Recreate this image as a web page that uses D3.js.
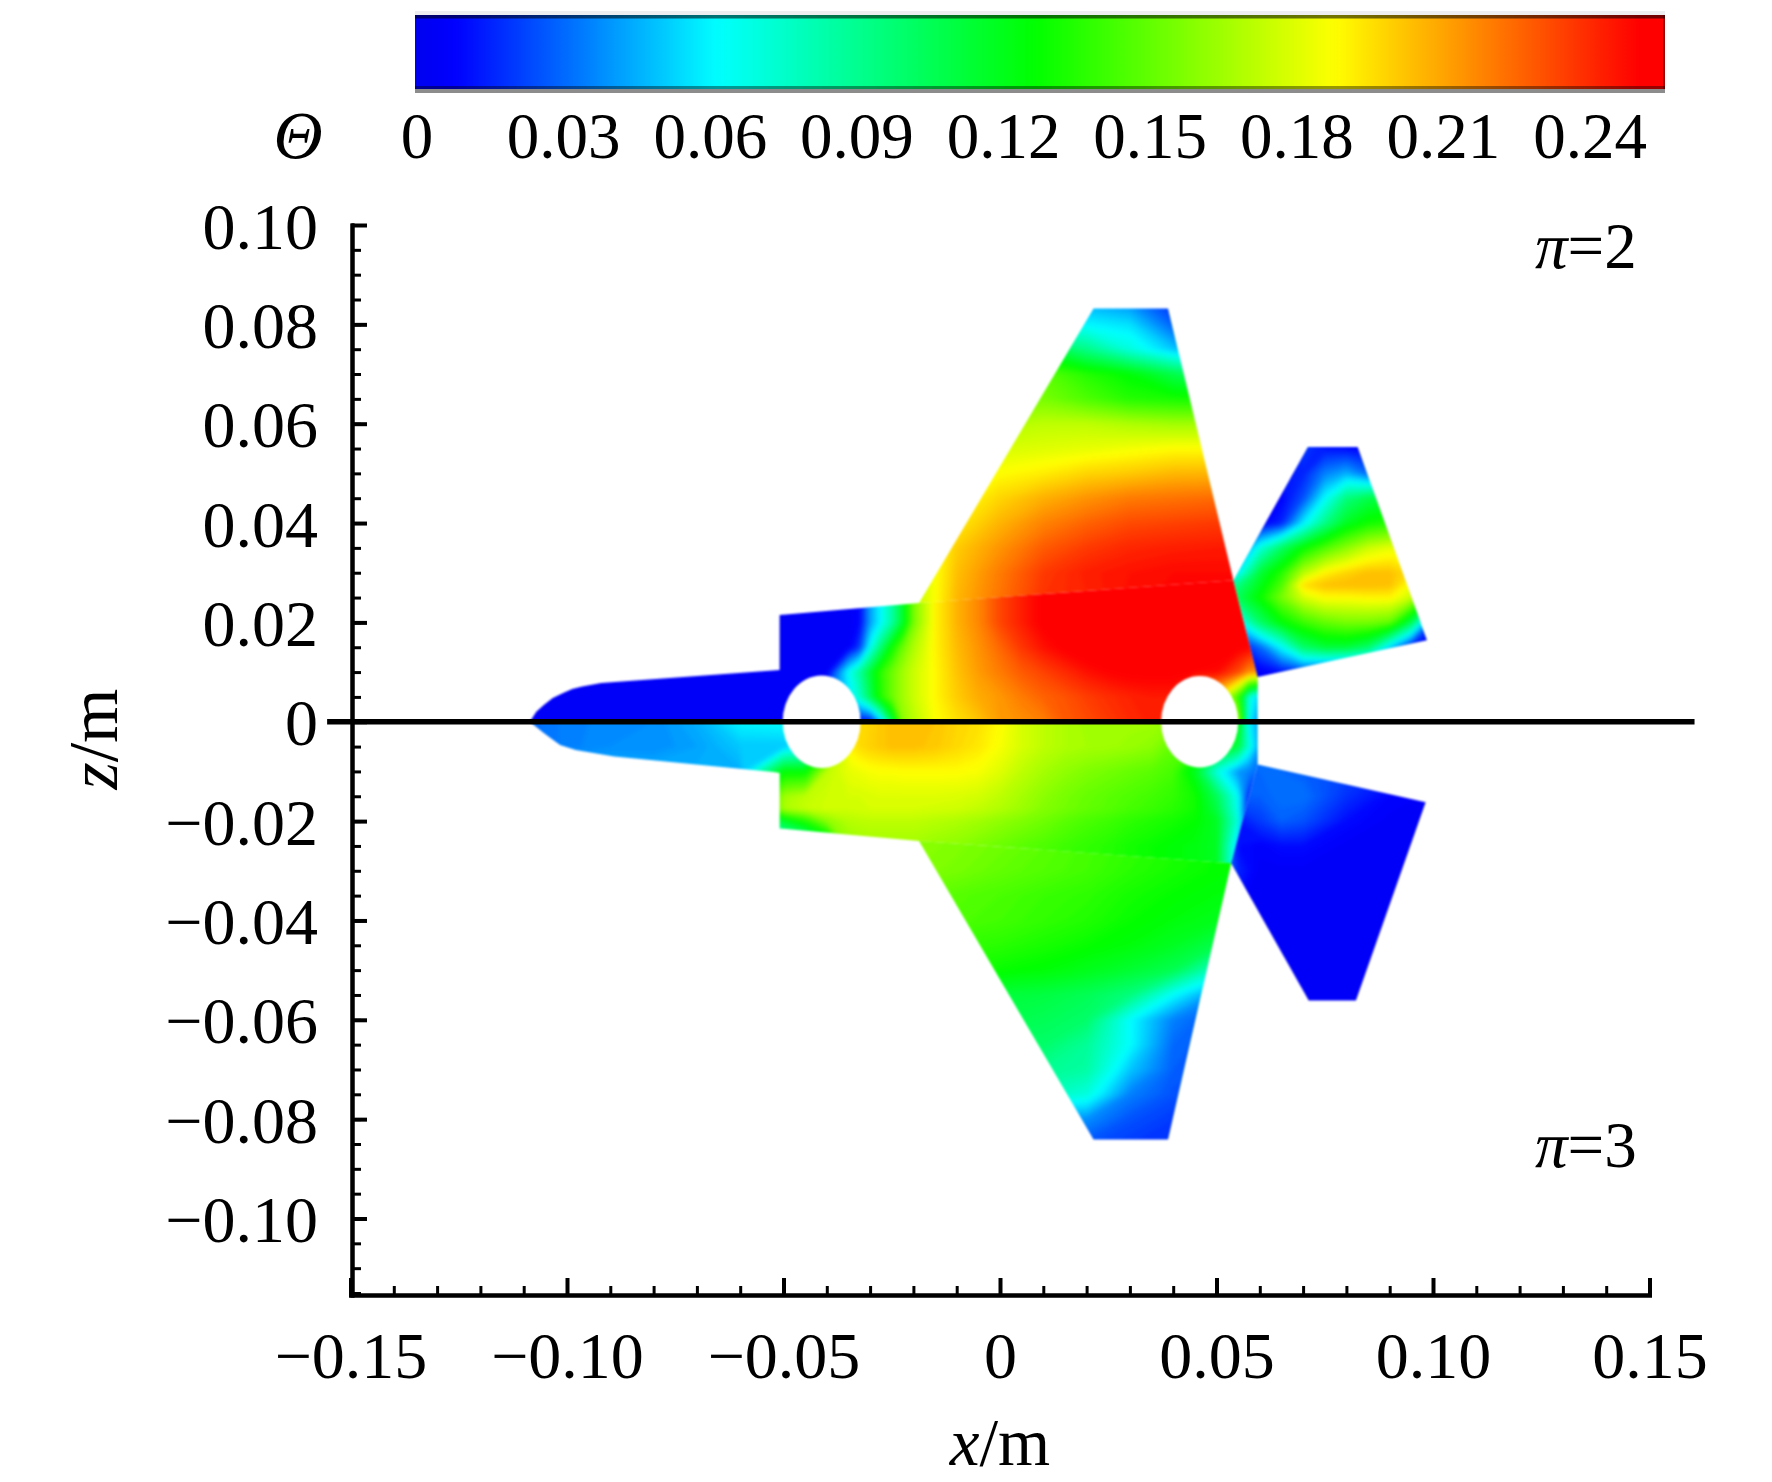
<!DOCTYPE html>
<html>
<head>
<meta charset="utf-8">
<script src="https://cdn.jsdelivr.net/npm/d3@7"></script>
<style>
  html, body { margin: 0; background: #fff; }
  text { font-family: "Liberation Serif", serif; fill: #000; }
</style>
</head>
<body>
<svg id="chart" width="1772" height="1482"></svg>
<script>
// axis ticks
const xMajor = [-0.15, -0.10, -0.05, 0, 0.05, 0.10, 0.15];
const xMinor = d3.range(-15, 16).map(d => d / 100);
const zMajor = [0.10, 0.08, 0.06, 0.04, 0.02, 0, -0.02, -0.04, -0.06, -0.08, -0.10];
const zMinor = d3.range(-23, 21).map(d => d / 200);
const barTicks = [0, 0.03, 0.06, 0.09, 0.12, 0.15, 0.18, 0.21, 0.24];
const barLabels = ['0', '0.03', '0.06', '0.09', '0.12', '0.15', '0.18', '0.21', '0.24'];

// colour scale of the bar, theta at each stop
const thetaStops = [0, 0.008, 0.0616, 0.1265, 0.1877, 0.25];
const thetaColors = ['#0000f0', '#0000ff', '#00ffff', '#00ff00', '#ffff00', '#ff0000'];

// outlines of the aircraft parts [x, z], metres
const upperBodyOutline = [[-0.1086, 0], [-0.1071, 0.002], [-0.1053, 0.0034], [-0.1033, 0.0048], [-0.1009, 0.0058], [-0.0988, 0.0066], [-0.0965, 0.0071], [-0.0921, 0.0078], [-0.0509, 0.0104], [-0.0509, 0.0215], [-0.0187, 0.0239], [0.0539, 0.0285], [0.0595, 0.009], [0.0595, 0]];
const upperWingOutline = [[-0.0187, 0.0239], [0.0216, 0.0832], [0.0388, 0.0832], [0.0539, 0.0285]];
const upperTailOutline = [[0.0539, 0.0285], [0.0711, 0.0553], [0.0826, 0.0553], [0.0986, 0.0164], [0.0595, 0.009]];
const lowerBodyOutline = [[-0.1086, 0], [-0.1053, -0.0023], [-0.1016, -0.0047], [-0.098, -0.0057], [-0.0891, -0.007], [-0.0524, -0.0101], [-0.0509, -0.0103], [-0.0509, -0.0215], [-0.0187, -0.024], [0.0534, -0.0285], [0.0595, -0.0086], [0.0595, 0]];
const lowerWingOutline = [[-0.0187, -0.024], [0.0216, -0.0841], [0.0388, -0.0841], [0.0534, -0.0285]];
const lowerTailOutline = [[0.0534, -0.0285], [0.0713, -0.0561], [0.0822, -0.0561], [0.0983, -0.0162], [0.0595, -0.0086]];

// inlets, centre x, half width, half height
const holeX = [-0.0412, 0.0461];
const holeRx = [0.009, 0.0089];
const holeRz = [0.0093, 0.0092];

// theta x 1000 at the grid nodes of each part
const bodyXs = [-0.11, -0.10, -0.09, -0.08, -0.07, -0.06, -0.05, -0.045, -0.04, -0.035, -0.0325, -0.03, -0.0275, -0.025, -0.0225, -0.02, -0.015, -0.01, -0.005, 0, 0.005, 0.01, 0.015, 0.02, 0.025, 0.03, 0.035, 0.04, 0.045, 0.05, 0.055, 0.0575, 0.06];
const upperBodyZs = [0, 0.005, 0.01, 0.015, 0.02, 0.03];
const upperBodyTheta = [
  [5, 5, 5, 5, 5, 5, 5, 5, 8, 10, 10, 10, 50, 105, 160, 170, 187, 195, 202, 212, 215, 219, 228, 232, 236, 240, 243, 243, 210, 200, 170, 60, 35],
  [5, 5, 5, 5, 5, 5, 5, 5, 30, 55, 75, 105, 135, 152, 165, 175, 189, 200, 208, 213, 220, 226, 230, 235, 239, 242, 244, 244, 200, 195, 140, 70, 50],
  [5, 5, 5, 5, 5, 5, 5, 5, 5, 64, 86, 113, 137, 152, 165, 175, 189, 202, 212, 220, 228, 234, 240, 246, 250, 252, 252, 252, 250, 248, 232, 215, 215],
  [5, 5, 5, 5, 5, 5, 5, 5, 5, 5, 20, 65, 98, 128, 152, 168, 190, 204, 214, 225, 237, 246, 252, 256, 258, 258, 258, 258, 258, 255, 252, 250, 250],
  [5, 5, 5, 5, 5, 5, 5, 5, 5, 5, 8, 42, 62, 85, 115, 155, 190, 206, 217, 233, 243, 252, 255, 255, 255, 255, 255, 255, 255, 255, 255, 252, 252],
  [5, 5, 5, 5, 5, 5, 5, 5, 5, 5, 8, 42, 62, 85, 115, 155, 190, 206, 217, 233, 243, 252, 255, 255, 255, 255, 255, 255, 255, 255, 255, 252, 252]
];
const lowerBodyZs = [0, -0.005, -0.01, -0.015, -0.0175, -0.02, -0.025, -0.03];
const lowerBodyTheta = [
  [30, 35, 37, 38, 45, 60, 62, 62, 100, 190, 196, 198, 201, 203, 204, 203, 202, 198, 195, 188, 178, 172, 168, 165, 165, 165, 165, 160, 150, 135, 125, 60, 40],
  [30, 35, 38, 38, 42, 50, 50, 60, 120, 190, 196, 199, 201, 203, 203, 203, 201, 197, 193, 186, 178, 172, 168, 166, 165, 163, 160, 150, 140, 125, 110, 70, 40],
  [45, 45, 45, 45, 45, 45, 125, 125, 172, 182, 184, 186, 187, 187, 188, 188, 188, 188, 186, 180, 172, 166, 161, 157, 154, 151, 148, 143, 118, 70, 40, 35, 30],
  [60, 60, 60, 60, 60, 60, 165, 172, 176, 178, 178, 179, 180, 180, 180, 180, 180, 179, 177, 172, 166, 160, 155, 151, 148, 145, 142, 138, 130, 105, 62, 15, 15],
  [60, 60, 60, 60, 60, 60, 168, 174, 177, 176, 177, 178, 178, 178, 178, 178, 177, 176, 173, 169, 164, 158, 154, 150, 147, 143, 140, 136, 130, 110, 65, 10, 10],
  [60, 60, 60, 60, 60, 60, 115, 135, 160, 170, 171, 172, 172, 172, 172, 172, 170, 168, 165, 161, 157, 153, 148, 144, 141, 137, 134, 131, 127, 118, 70, 8, 8],
  [60, 60, 60, 60, 60, 60, 60, 70, 100, 160, 164, 165, 165, 165, 165, 165, 162, 160, 156, 152, 148, 145, 141, 138, 135, 131, 128, 125, 123, 118, 50, 5, 5],
  [60, 60, 60, 60, 60, 60, 60, 70, 100, 160, 164, 165, 165, 165, 165, 165, 162, 160, 156, 152, 148, 145, 141, 138, 135, 131, 128, 125, 123, 118, 50, 5, 5]
];

const wingXs = [-0.02, -0.01, 0, 0.01, 0.02, 0.03, 0.04, 0.05, 0.06];
const upperWingZs = [0.02, 0.025, 0.03, 0.035, 0.04, 0.045, 0.05, 0.055, 0.06, 0.065, 0.07, 0.075, 0.08, 0.085];
const upperWingTheta = [
  [170, 205, 222, 238, 242, 247, 249, 250, 250],
  [170, 205, 222, 238, 242, 247, 249, 250, 250],
  [170, 203, 220, 236, 243, 246, 248, 248, 248],
  [170, 200, 214, 228, 236, 241, 243, 244, 244],
  [165, 192, 206, 218, 226, 232, 234, 236, 236],
  [160, 185, 198, 207, 214, 220, 222, 224, 224],
  [155, 178, 188, 192, 198, 201, 205, 206, 206],
  [150, 170, 178, 180, 182, 185, 188, 188, 188],
  [140, 160, 168, 172, 172, 168, 165, 165, 165],
  [130, 145, 152, 155, 145, 135, 132, 130, 130],
  [120, 135, 145, 148, 135, 125, 108, 95, 95],
  [100, 110, 112, 112, 92, 70, 50, 35, 35],
  [60, 60, 60, 62, 60, 55, 28, 15, 15],
  [45, 45, 45, 45, 42, 35, 15, 10, 10]
];
const lowerWingZs = [-0.02, -0.025, -0.03, -0.035, -0.04, -0.045, -0.05, -0.055, -0.06, -0.065, -0.07, -0.075, -0.08, -0.085];
const lowerWingTheta = [
  [160, 157, 153, 148, 143, 138, 133, 128, 124],
  [160, 157, 153, 148, 143, 138, 133, 128, 124],
  [158, 155, 150, 146, 142, 136, 131, 127, 124],
  [150, 147, 144, 140, 137, 131, 127, 124, 120],
  [148, 145, 142, 138, 134, 128, 124, 120, 118],
  [140, 138, 136, 132, 128, 124, 118, 108, 100],
  [135, 132, 128, 125, 120, 114, 106, 75, 60],
  [120, 115, 112, 110, 105, 95, 62, 38, 30],
  [115, 110, 108, 105, 100, 62, 35, 25, 25],
  [110, 105, 102, 100, 88, 62, 30, 25, 25],
  [95, 92, 90, 90, 85, 50, 28, 25, 25],
  [85, 82, 80, 80, 70, 35, 25, 25, 25],
  [50, 45, 42, 40, 38, 25, 20, 20, 20],
  [25, 25, 25, 25, 25, 20, 18, 18, 18]
];

const upperTailXs = [0.05, 0.055, 0.06, 0.065, 0.07, 0.075, 0.08, 0.085, 0.09, 0.095, 0.10];
const upperTailZs = [0.005, 0.01, 0.015, 0.02, 0.025, 0.0275, 0.03, 0.035, 0.04, 0.045, 0.05, 0.055];
const upperTailTheta = [
  [5, 5, 5, 8, 10, 8, 8, 8, 5, 5, 5],
  [5, 5, 5, 12, 20, 15, 10, 8, 8, 5, 5],
  [8, 10, 30, 62, 100, 112, 112, 100, 55, 10, 5],
  [40, 60, 100, 125, 140, 150, 155, 155, 150, 105, 20],
  [90, 105, 128, 155, 178, 188, 188, 190, 190, 175, 120],
  [80, 95, 120, 145, 195, 203, 204, 204, 203, 185, 150],
  [50, 62, 112, 135, 170, 190, 198, 203, 203, 195, 150],
  [15, 25, 70, 102, 127, 145, 160, 175, 182, 180, 150],
  [5, 5, 5, 15, 58, 92, 118, 130, 135, 135, 120],
  [5, 5, 5, 8, 25, 62, 95, 108, 112, 100, 80],
  [5, 5, 8, 12, 15, 35, 45, 30, 20, 15, 10],
  [5, 5, 8, 10, 20, 12, 10, 8, 8, 8, 8]
];
const lowerTailXs = [0.05, 0.055, 0.06, 0.065, 0.07, 0.08, 0.09, 0.10];
const lowerTailZs = [-0.005, -0.01, -0.015, -0.02, -0.025, -0.03, -0.04, -0.05, -0.06];
const lowerTailTheta = [
  [40, 35, 35, 30, 30, 25, 20, 15],
  [35, 30, 30, 30, 28, 22, 15, 10],
  [30, 28, 28, 32, 32, 18, 8, 5],
  [25, 12, 20, 28, 25, 10, 5, 5],
  [60, 10, 7, 10, 10, 5, 5, 5],
  [50, 15, 5, 5, 5, 5, 5, 5],
  [10, 5, 5, 5, 5, 5, 5, 5],
  [5, 5, 5, 5, 5, 5, 5, 5],
  [5, 5, 5, 5, 5, 5, 5, 5]
];

const parts = [
  {id: 'upperBody', outline: upperBodyOutline, xs: bodyXs, zs: upperBodyZs, theta: upperBodyTheta},
  {id: 'lowerBody', outline: lowerBodyOutline, xs: bodyXs, zs: lowerBodyZs, theta: lowerBodyTheta},
  {id: 'upperWing', outline: upperWingOutline, xs: wingXs, zs: upperWingZs, theta: upperWingTheta},
  {id: 'lowerWing', outline: lowerWingOutline, xs: wingXs, zs: lowerWingZs, theta: lowerWingTheta},
  {id: 'upperTail', outline: upperTailOutline, xs: upperTailXs, zs: upperTailZs, theta: upperTailTheta},
  {id: 'lowerTail', outline: lowerTailOutline, xs: lowerTailXs, zs: lowerTailZs, theta: lowerTailTheta}
];

const svg = d3.select('#chart');
const defs = svg.append('defs');

const x = d3.scaleLinear().domain([-0.15, 0.15]).range([350.5, 1649.5]);
const z = d3.scaleLinear().domain([-0.1154, 0.10]).range([1295, 225]);
const color = d3.scaleLinear().domain(thetaStops).range(thetaColors).clamp(true);

// blur filters, the first hides the kinks of the grid, the second softens the part edges
function addBlur(id, dev) {
  defs.append('filter')
    .attr('id', id)
    .attr('filterUnits', 'userSpaceOnUse')
    .attr('x', 0).attr('y', 0).attr('width', 1772).attr('height', 1482)
    .attr('color-interpolation-filters', 'sRGB')
    .append('feGaussianBlur')
    .attr('stdDeviation', dev);
}
addBlur('fieldBlur', 2);
addBlur('edgeBlur', 0.9);

// colour bar
const barScale = d3.scaleLinear().domain([0, 0.24]).range([417, 1590]);
const barDomain = [barScale.invert(415), barScale.invert(1665)];
const barGradient = defs.append('linearGradient').attr('id', 'barGradient');
barGradient.selectAll('stop')
  .data(d3.range(0, 1.001, 0.01))
  .enter()
  .append('stop')
  .attr('offset', d => d)
  .attr('stop-color', d => color(barDomain[0] + d * (barDomain[1] - barDomain[0])));

svg.append('rect').attr('x', 415).attr('y', 11).attr('width', 1250).attr('height', 4).attr('fill', '#eeeef1');
svg.append('rect').attr('x', 415).attr('y', 15).attr('width', 1250).attr('height', 74).attr('fill', 'url(#barGradient)');
svg.append('rect').attr('x', 415).attr('y', 15).attr('width', 1250).attr('height', 3.5).attr('fill', '#000').attr('opacity', 0.55);
svg.append('rect').attr('x', 415).attr('y', 86).attr('width', 1250).attr('height', 3).attr('fill', '#000').attr('opacity', 0.4);
svg.append('rect').attr('x', 415).attr('y', 89).attr('width', 1250).attr('height', 4).attr('fill', '#8c8c8c');
svg.append('rect').attr('x', 1663).attr('y', 15).attr('width', 2).attr('height', 74).attr('fill', '#000').attr('opacity', 0.4);

svg.selectAll('.barLabel')
  .data(barTicks)
  .enter()
  .append('text')
  .attr('class', 'barLabel')
  .attr('x', d => barScale(d))
  .attr('y', 158)
  .attr('text-anchor', 'middle')
  .attr('font-size', 65)
  .text((d, i) => barLabels[i]);

svg.append('text')
  .attr('x', 298).attr('y', 158)
  .attr('text-anchor', 'middle')
  .attr('font-size', 68)
  .attr('font-style', 'italic')
  .text('Θ');

// one clipped stack of filled contours per part
const thresholds = d3.range(0, 262, 2);
const field = svg.append('g').attr('filter', 'url(#edgeBlur)');

parts.forEach(part => {
  const outlinePath = d3.line().x(d => x(d[0])).y(d => z(d[1]));
  defs.append('clipPath')
    .attr('id', 'clip-' + part.id)
    .append('path')
    .attr('d', outlinePath(part.outline) + 'Z');

  const n = part.xs.length;
  const m = part.zs.length;
  // d3.contours puts node i at i + 0.5
  const gridX = d3.scaleLinear()
    .domain([0, ...d3.range(n).map(i => i + 0.5), n])
    .range([part.xs[0] - (part.xs[1] - part.xs[0]) / 2, ...part.xs, part.xs[n - 1] + (part.xs[n - 1] - part.xs[n - 2]) / 2]);
  const gridZ = d3.scaleLinear()
    .domain([0, ...d3.range(m).map(i => i + 0.5), m])
    .range([part.zs[0] - (part.zs[1] - part.zs[0]) / 2, ...part.zs, part.zs[m - 1] + (part.zs[m - 1] - part.zs[m - 2]) / 2]);

  const toPage = d3.geoTransform({
    point(a, b) { this.stream.point(x(gridX(a)), z(gridZ(b))); }
  });
  const contourPath = d3.geoPath(toPage);

  const contours = d3.contours()
    .size([n, m])
    .thresholds(thresholds)(part.theta.flat());

  field.append('g')
    .attr('clip-path', `url(#clip-${part.id})`)
    .append('g')
    .attr('filter', 'url(#fieldBlur)')
    .selectAll('path')
    .data(contours)
    .enter()
    .append('path')
    .attr('d', contourPath)
    .attr('fill', d => color((d.value + 1) / 1000));
});

field.selectAll('ellipse')
  .data(holeX)
  .enter()
  .append('ellipse')
  .attr('cx', d => x(d))
  .attr('cy', z(0))
  .attr('rx', (d, i) => x(d + holeRx[i]) - x(d))
  .attr('ry', (d, i) => z(0) - z(holeRz[i]))
  .attr('fill', '#fff');

// axes
const tickText = d => d === 0 ? '0' : d3.format('.2f')(d).replace('-', '\u2212');

const xAxisMinor = d3.axisBottom(x).tickValues(xMinor).tickSizeInner(-9).tickSizeOuter(0).tickFormat('');
const xAxisMajor = d3.axisBottom(x).tickValues(xMajor).tickSizeInner(-17).tickSizeOuter(0).tickPadding(36).tickFormat(tickText);
const zAxisMinor = d3.axisLeft(z).tickValues(zMinor).tickSizeInner(-9).tickSizeOuter(0).tickFormat('');
const zAxisMajor = d3.axisLeft(z).tickValues(zMajor).tickSizeInner(-15).tickSizeOuter(0).tickPadding(34).tickFormat(tickText);

function drawAxis(axis, translate, tickWidth) {
  const g = svg.append('g').attr('transform', translate).call(axis);
  g.select('.domain').attr('stroke', '#000').attr('stroke-width', 4).attr('stroke-linecap', 'square');
  g.selectAll('.tick line').attr('stroke', '#000').attr('stroke-width', tickWidth);
  g.selectAll('.tick text').attr('font-family', '"Liberation Serif", serif').attr('font-size', 66);
  return g;
}
drawAxis(xAxisMinor, 'translate(0,1295)', 3);
drawAxis(xAxisMajor, 'translate(0,1295)', 4);
drawAxis(zAxisMinor, 'translate(352,0)', 3);
drawAxis(zAxisMajor, 'translate(352,0)', 4).selectAll('.tick text').attr('dy', '0.35em');

// symmetry line
svg.append('line')
  .attr('x1', x(-0.1554)).attr('x2', x(0.1604))
  .attr('y1', z(0)).attr('y2', z(0))
  .attr('stroke', '#000').attr('stroke-width', 5.5);

// titles
const xTitle = svg.append('text').attr('x', 1000).attr('y', 1465).attr('text-anchor', 'middle').attr('font-size', 67);
xTitle.append('tspan').attr('font-style', 'italic').text('x');
xTitle.append('tspan').text('/m');

const zTitle = svg.append('text').attr('transform', 'translate(117,739) rotate(-90)').attr('text-anchor', 'middle').attr('font-size', 70);
zTitle.append('tspan').attr('font-style', 'italic').text('z');
zTitle.append('tspan').text('/m');

[['2', 268], ['3', 1167]].forEach(d => {
  const t = svg.append('text').attr('x', 1535).attr('y', d[1]).attr('font-size', 65);
  t.append('tspan').attr('font-style', 'italic').text('π');
  t.append('tspan').text('=' + d[0]);
});
</script>
</body>
</html>
